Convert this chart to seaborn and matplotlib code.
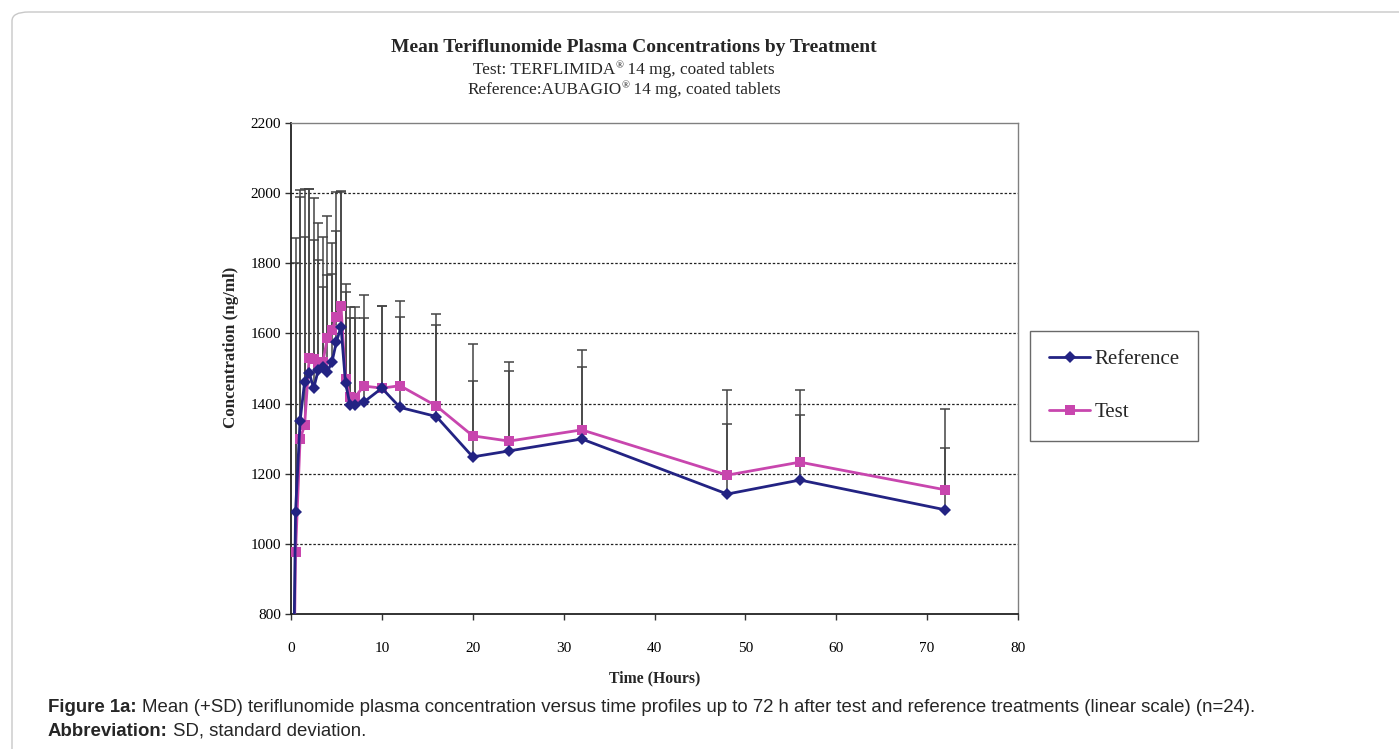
import numpy as np
import pandas as pd
import matplotlib
matplotlib.use("Agg")
import matplotlib.pyplot as plt
import seaborn as sns
from matplotlib.patches import FancyBboxPatch

# ---- data ----
times = [0, 0.5, 1, 1.5, 2, 2.5, 3, 3.5, 4, 4.5, 5, 5.5, 6, 6.5, 7, 8,
         10, 12, 16, 20, 24, 32, 48, 56, 72]
reference_mean = [0, 1092, 1351, 1462, 1487, 1444, 1496, 1505, 1491, 1518, 1576, 1619,
                  1459, 1396, 1396, 1404, 1444, 1389, 1363, 1248, 1265, 1299, 1142, 1182, 1097]
test_mean = [0, 976, 1298, 1339, 1529, 1527, 1517, 1518, 1586, 1610, 1648, 1678,
             1469, 1420, 1417, 1450, 1444, 1451, 1393, 1308, 1293, 1325, 1196, 1233, 1154]
reference_upper = [0, 1800, 2009, 1876, 2012, 1866, 1809, 1733, 1767, 1859, 1892, 2002,
                   1719, 1643, 1643, 1643, 1678, 1648, 1624, 1465, 1493, 1505, 1342, 1367, 1274]
test_upper = [0, 1871, 1988, 2012, 2012, 1985, 1916, 1876, 1935, 1769, 2002, 2006,
              1741, 1675, 1675, 1710, 1678, 1693, 1655, 1570, 1518, 1553, 1439, 1439, 1385]
reference_sd = [u - m for u, m in zip(reference_upper, reference_mean)]
test_sd = [u - m for u, m in zip(test_upper, test_mean)]

x_ticks = [0, 10, 20, 30, 40, 50, 60, 70, 80]
y_ticks = [800, 1000, 1200, 1400, 1600, 1800, 2000, 2200]

title = "Mean Teriflunomide Plasma Concentrations by Treatment"
sub1_parts = ("Test: TERFLIMIDA", "\u00ae", " 14 mg, coated tablets")
sub2_parts = ("Reference:AUBAGIO", "\u00ae", " 14 mg, coated tablets")
caption1 = ("Mean (+SD) teriflunomide plasma concentration versus time profiles up to 72 h "
            "after test and reference treatments (linear scale) (n=24).")
caption2 = "SD, standard deviation."

REF_COLOR = "#232383"
TEST_COLOR = "#C846AE"

sns.set_theme(style="white")
plt.rcParams["font.family"] = ["Liberation Serif", "DejaVu Serif"]

df = pd.DataFrame({
    "time": times * 2,
    "conc": reference_mean + test_mean,
    "treatment": ["Reference"] * len(times) + ["Test"] * len(times),
})

W, H = 1399, 749
fig = plt.figure(figsize=(W / 100, H / 100), dpi=100)
ax = fig.add_axes([291 / W, 1 - 614 / H, (1018 - 291) / W, (614 - 123) / H])

# error bars (+SD only)
zeros = [0] * len(times)
ax.errorbar(times[1:], reference_mean[1:], yerr=[zeros[1:], reference_sd[1:]], fmt="none",
            ecolor="#444444", elinewidth=1.1, capsize=3.5, capthick=1.1, zorder=2)
ax.errorbar(times[1:], test_mean[1:], yerr=[zeros[1:], test_sd[1:]], fmt="none",
            ecolor="#444444", elinewidth=1.1, capsize=3.5, capthick=1.1, zorder=2)

sns.lineplot(data=df[df.treatment == "Reference"], x="time", y="conc", ax=ax,
             color=REF_COLOR, marker="D", markersize=6, markeredgewidth=0,
             linewidth=2, label="Reference", zorder=4, errorbar=None)
sns.lineplot(data=df[df.treatment == "Test"], x="time", y="conc", ax=ax,
             color=TEST_COLOR, marker="s", markersize=7.5, markeredgewidth=0,
             linewidth=2, label="Test", zorder=3, errorbar=None)

ax.set_xlim(0, 80)
ax.set_ylim(800, 2200)
ax.set_xticks(x_ticks)
ax.set_yticks(y_ticks)
ax.tick_params(axis="both", labelsize=11, direction="out", length=4, width=1,
               color="#333333", labelcolor="black", bottom=True, left=True)
ax.tick_params(axis="x", pad=16)
ax.tick_params(axis="y", pad=3)
for y in y_ticks[1:-1]:
    ax.axhline(y, color="#222222", linestyle=(0, (2, 1.5)), linewidth=0.9, zorder=1)

for side in ["left", "bottom"]:
    ax.spines[side].set_color("#222222")
    ax.spines[side].set_linewidth(1.3)
for side in ["top", "right"]:
    ax.spines[side].set_color("#808080")
    ax.spines[side].set_linewidth(1.0)

ax.set_xlabel("Time (Hours)", fontsize=11.3, fontweight="bold", labelpad=11)
ax.set_ylabel("Concentration (ng/ml)", fontsize=12.2, fontweight="bold")
ax.yaxis.set_label_coords(-0.0715, 0.544)

leg = ax.legend(loc="center left", bbox_to_anchor=(1.0165, 0.465), fontsize=15,
                frameon=True, fancybox=False, edgecolor="#444444", labelspacing=1.6,
                handlelength=2.0, handletextpad=0.2, borderpad=0.9, borderaxespad=0)
leg.get_frame().set_linewidth(1.0)

fig.text(634 / W, 1 - 48 / H, title, ha="center", va="center", fontsize=14,
         fontweight="bold")

renderer = fig.canvas.get_renderer()


def centered_with_reg(parts, xc, yc, size):
    """Draw text with a small raised (R) mark, centred at xc (pixels)."""
    a = fig.text(0, 1 - yc / H, parts[0], ha="left", va="center", fontsize=size)
    r = fig.text(0, 1 - (yc - 4) / H, parts[1], ha="left", va="center", fontsize=size * 0.6)
    b = fig.text(0, 1 - yc / H, parts[2], ha="left", va="center", fontsize=size)
    wa = a.get_window_extent(renderer).width
    wr = r.get_window_extent(renderer).width
    wb = b.get_window_extent(renderer).width
    x = xc - (wa + wr + wb) / 2
    a.set_x(x / W)
    r.set_x((x + wa) / W)
    b.set_x((x + wa + wr) / W)


centered_with_reg(sub1_parts, 624, 70, 12.4)
centered_with_reg(sub2_parts, 624, 90, 12.4)

cap_font = ["Liberation Sans", "DejaVu Sans"]
cap_size = 13.4
f1 = fig.text(48 / W, 1 - 708 / H, "Figure 1a:", ha="left", va="center",
              fontsize=cap_size, fontweight="bold", family=cap_font)
w1 = f1.get_window_extent(renderer).width
fig.text((48 + w1 + 5) / W, 1 - 708 / H, caption1, ha="left", va="center",
         fontsize=cap_size, family=cap_font)
f2 = fig.text(48 / W, 1 - 731 / H, "Abbreviation:", ha="left", va="center",
              fontsize=cap_size, fontweight="bold", family=cap_font)
w2 = f2.get_window_extent(renderer).width
fig.text((48 + w2 + 5) / W, 1 - 731 / H, caption2, ha="left", va="center",
         fontsize=cap_size, family=cap_font)

frame = FancyBboxPatch((12 / W, -0.05), 1.2, 1 - 12 / H + 0.05,
                       boxstyle="round,pad=0,rounding_size=0.012",
                       transform=fig.transFigure, facecolor="none",
                       edgecolor="#c8c8c8", linewidth=1.0, clip_on=False)
fig.add_artist(frame)

fig.savefig("out.png", dpi=100)
